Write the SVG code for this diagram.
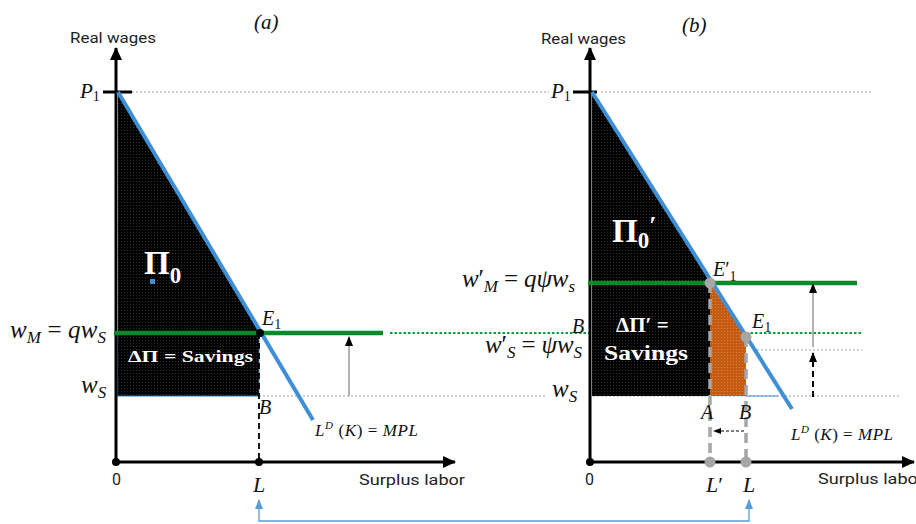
<svg xmlns="http://www.w3.org/2000/svg" width="916" height="524" viewBox="0 0 916 524">
<defs>
  <pattern id="blk" width="3" height="3" patternUnits="userSpaceOnUse">
    <rect width="3" height="3" fill="#000"/>
    <circle cx="1.5" cy="1.5" r="0.55" fill="#3a3a3a"/>
  </pattern>
  <pattern id="org" width="3" height="3" patternUnits="userSpaceOnUse">
    <rect width="3" height="3" fill="#c55a11"/>
    <circle cx="1.5" cy="1.5" r="0.55" fill="#dc8a55"/>
  </pattern>
  <marker id="ax" markerUnits="userSpaceOnUse" markerWidth="14" markerHeight="14" viewBox="0 0 14 14" refX="12" refY="7" orient="auto">
    <path d="M0,1 L13,7 L0,13 z" fill="#000"/>
  </marker>
  <marker id="gr" markerUnits="userSpaceOnUse" markerWidth="10" markerHeight="10" viewBox="0 0 10 10" refX="9" refY="5" orient="auto">
    <path d="M0,1 L10,5 L0,9 z" fill="#000"/>
  </marker>
  <marker id="sm" markerUnits="userSpaceOnUse" markerWidth="8" markerHeight="8" viewBox="0 0 8 8" refX="7" refY="4" orient="auto">
    <path d="M0,1 L8,4 L0,7 z" fill="#000"/>
  </marker>
  <marker id="bl" markerUnits="userSpaceOnUse" markerWidth="10" markerHeight="10" viewBox="0 0 10 10" refX="9" refY="5" orient="auto-start-reverse">
    <path d="M0,1 L10,5 L0,9 z" fill="#5b9bd5"/>
  </marker>
  <style>
    .m{font-family:"Liberation Serif","DejaVu Serif",serif;font-style:italic;fill:#111}
    .up{font-style:normal}
    .s{font-family:Roboto,"Liberation Sans",sans-serif;fill:#222}
    .w{font-family:"Liberation Serif","DejaVu Serif",serif;font-weight:bold;fill:#fff}
    .dot{stroke:#a0a0a0;stroke-width:1;stroke-dasharray:2,2;fill:none}
    .gdot{stroke:#00a03c;stroke-width:2.2;stroke-dasharray:2.5,2;fill:none}
    .green{stroke:#0a8a2a;stroke-width:4.5;fill:none}
    .mpl{stroke:#3f8fd6;stroke-width:4;fill:none}
    .axis{stroke:#000;stroke-width:3;fill:none}
    .gd{stroke:#a6a6a6;stroke-width:3.5;stroke-dasharray:10,6;fill:none}
  </style>
</defs>
<rect width="916" height="524" fill="#fff"/>

<!-- guide lines -->
<g id="guides">
  <line class="dot" x1="132" y1="92" x2="549" y2="92"/>
  <line class="dot" x1="601" y1="92" x2="873" y2="92"/>
  <line class="dot" x1="259" y1="396" x2="545" y2="396"/>
  <line class="dot" x1="589" y1="396" x2="900" y2="396"/>
  <line class="dot" x1="757" y1="350" x2="862" y2="350"/>
  <line class="gdot" x1="390" y1="333" x2="589" y2="333"/>
  <line class="gdot" x1="746" y1="333" x2="862" y2="333"/>
</g>

<!-- Panel (a) -->
<g id="panel-a-areas">
  <polygon points="118,93 260,333 118,333" fill="url(#blk)"/>
  <rect x="117.5" y="333" width="141.5" height="63" fill="url(#blk)" stroke="#2e75b6" stroke-width="1"/>
</g>
<g id="panel-a-axes">
  <line class="axis" x1="116" y1="462" x2="116" y2="48" marker-end="url(#ax)"/>
  <line class="axis" x1="116" y1="462" x2="455" y2="462" marker-end="url(#ax)"/>
  <line x1="103" y1="92" x2="132" y2="92" stroke="#000" stroke-width="3"/>
  <circle cx="116" cy="462" r="4" fill="#000"/>
  <circle cx="259" cy="462" r="4" fill="#000"/>
</g>
<g id="panel-a-curves">
  <line class="green" x1="114" y1="333" x2="383" y2="333"/>
  <line class="mpl" x1="118" y1="92" x2="313" y2="420"/>
  <line x1="259" y1="333" x2="259" y2="462" stroke="#000" stroke-width="1.8" stroke-dasharray="6,4"/>
  <circle cx="260" cy="333" r="4" fill="#000"/>
  <rect x="150" y="279" width="5" height="5" fill="#3f8fd6"/>
</g>
<g id="panel-a-labels">
  <text class="m" x="254" y="29" font-size="21">(<tspan>a</tspan>)</text>
  <text class="s" x="70" y="43" font-size="15" textLength="86" lengthAdjust="spacingAndGlyphs">Real wages</text>
  <text class="m" x="80" y="98" font-size="21">P<tspan font-size="14" dy="3" class="up">1</tspan></text>
  <text class="w" x="144" y="274" font-size="33">Π<tspan font-size="23" dy="9">0</tspan></text>
  <text class="w" x="128" y="362" font-size="17" textLength="125" lengthAdjust="spacingAndGlyphs">ΔΠ = Savings</text>
  <text class="m" x="10" y="338" font-size="25" textLength="96">w<tspan font-size="17" dy="5">M</tspan><tspan dy="-5" class="up"> = </tspan>qw<tspan font-size="17" dy="5">S</tspan></text>
  <text class="m" x="81" y="393" font-size="25">w<tspan font-size="17" dy="5">S</tspan></text>
  <text class="m" x="262" y="325" font-size="20">E<tspan font-size="14" dy="4" class="up">1</tspan></text>
  <text class="m" x="259" y="414" font-size="20">B</text>
  <text class="m" x="315" y="436" font-size="17" textLength="103">L<tspan font-size="11" dy="-7">D</tspan><tspan dy="7" class="up"> (</tspan>K<tspan class="up">) = </tspan>MPL</text>
  <text class="s" x="112" y="485" font-size="16">0</text>
  <text class="m" x="253" y="492" font-size="22">L</text>
  <text class="s" x="359" y="485" font-size="15" textLength="106" lengthAdjust="spacingAndGlyphs">Surplus labor</text>
  <line x1="349" y1="396" x2="349" y2="337" stroke="#8a8a8a" stroke-width="1.3" marker-end="url(#gr)"/>
</g>

<!-- Panel (b) -->
<g id="panel-b-areas">
  <polygon points="592,93 711,283 592,283" fill="url(#blk)"/>
  <rect x="592" y="283" width="118" height="113" fill="url(#blk)"/>
  <polygon points="710,283 746,337 746,396 710,396" fill="url(#org)"/>
  <line x1="746" y1="396" x2="778" y2="396" stroke="#5b9bd5" stroke-width="1.2"/>
</g>
<g id="panel-b-axes">
  <line class="axis" x1="590" y1="462" x2="590" y2="48" marker-end="url(#ax)"/>
  <line class="axis" x1="590" y1="462" x2="914" y2="462" marker-end="url(#ax)"/>
  <line x1="573" y1="92" x2="597" y2="92" stroke="#000" stroke-width="3"/>
  <circle cx="590" cy="462" r="4" fill="#000"/>
</g>
<g id="panel-b-curves">
  <line class="green" x1="588" y1="283" x2="857" y2="283"/>
  <line class="mpl" x1="592" y1="92" x2="792" y2="409"/>
  <line class="gd" x1="710" y1="283" x2="710" y2="462"/>
  <line class="gd" x1="746" y1="337" x2="746" y2="462"/>
  <circle cx="710" cy="283" r="5.5" fill="#a6a6a6"/>
  <circle cx="746" cy="337" r="5.5" fill="#a6a6a6"/>
  <circle cx="710" cy="462" r="5.5" fill="#a6a6a6"/>
  <circle cx="746" cy="462" r="5.5" fill="#a6a6a6"/>
  <line x1="744" y1="431" x2="714" y2="431" stroke="#000" stroke-width="1" stroke-dasharray="3,2" marker-end="url(#sm)"/>
  <line x1="813" y1="347" x2="813" y2="284" stroke="#8a8a8a" stroke-width="1.3" marker-end="url(#gr)"/>
  <line x1="813" y1="397" x2="813" y2="353" stroke="#000" stroke-width="2" stroke-dasharray="6,4" marker-end="url(#gr)"/>
</g>
<g id="panel-b-labels">
  <text class="m" x="682" y="32" font-size="21">(<tspan>b</tspan>)</text>
  <text class="s" x="541" y="44" font-size="15" textLength="85" lengthAdjust="spacingAndGlyphs">Real wages</text>
  <text class="m" x="551" y="98" font-size="21">P<tspan font-size="14" dy="3" class="up">1</tspan></text>
  <text class="w" x="612" y="242" font-size="33">Π<tspan font-size="23" dy="6">0</tspan><tspan font-size="26" dy="-14">′</tspan></text>
  <text class="w" x="616" y="332" font-size="21">ΔΠ′ =</text>
  <text class="w" x="604" y="360" font-size="21" textLength="84" lengthAdjust="spacingAndGlyphs">Savings</text>
  <text class="m" x="462" y="287" font-size="25" textLength="113">w<tspan class="up">′</tspan><tspan font-size="17" dy="5">M</tspan><tspan dy="-5" class="up"> = </tspan>qψw<tspan font-size="17" dy="5">s</tspan></text>
  <text class="m" x="485" y="353" font-size="25" textLength="97">w<tspan class="up">′</tspan><tspan font-size="17" dy="5">S</tspan><tspan dy="-5" class="up"> = </tspan>ψw<tspan font-size="17" dy="5">S</tspan></text>
  <text class="m" x="572" y="333" font-size="20">B</text>
  <text class="m" x="552" y="397" font-size="25">w<tspan font-size="17" dy="5">S</tspan></text>
  <text class="m" x="713" y="276" font-size="20">E<tspan class="up">′</tspan><tspan font-size="14" dy="5" class="up">1</tspan></text>
  <text class="m" x="752" y="328" font-size="20">E<tspan font-size="14" dy="4" class="up">1</tspan></text>
  <text class="m" x="701" y="419" font-size="20">A</text>
  <text class="m" x="739" y="419" font-size="20">B</text>
  <text class="m" x="791" y="440" font-size="17" textLength="102">L<tspan font-size="11" dy="-7">D</tspan><tspan dy="7" class="up"> (</tspan>K<tspan class="up">) = </tspan>MPL</text>
  <text class="s" x="585" y="485" font-size="16">0</text>
  <text class="m" x="706" y="492" font-size="22">L<tspan class="up">′</tspan></text>
  <text class="m" x="743" y="492" font-size="22">L</text>
  <text class="s" x="818" y="484" font-size="15" textLength="106" lengthAdjust="spacingAndGlyphs">Surplus labor</text>
</g>

<g id="connectors">
  <path d="M259,500 L259,521 L749,521 L749,500" fill="none" stroke="#5b9bd5" stroke-width="1.3" marker-start="url(#bl)" marker-end="url(#bl)"/>
</g>
</svg>
